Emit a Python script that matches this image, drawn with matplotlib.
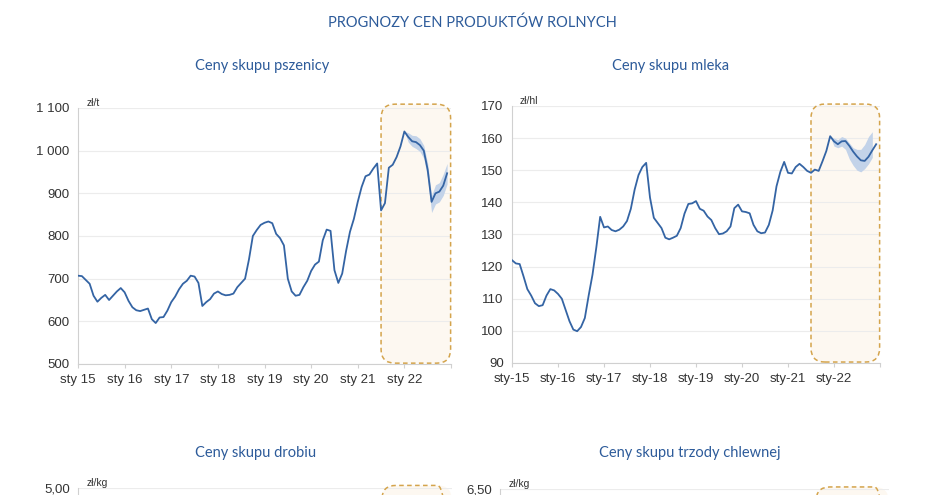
import numpy as np
import matplotlib.pyplot as plt
from matplotlib.patches import FancyBboxPatch
from matplotlib.ticker import FuncFormatter

# monthly data, Jan 2015 .. Dec 2022 (index 0 = sty 15)
wheat = [707, 706, 697, 688, 660, 646, 655, 662, 650, 660, 670, 678,
         668, 648, 633, 626, 624, 627, 630, 605, 596, 609, 610, 625,
         645, 658, 675, 688, 695, 707, 705, 690, 636, 645, 652, 665,
         670, 664, 661, 662, 665, 680, 690, 700, 745, 800, 814, 826,
         831, 834, 830, 805, 795, 778, 700, 670, 660, 662, 680, 695,
         718, 733, 740, 790, 815, 812, 720, 690, 712, 765, 810, 840,
         880, 915, 940, 944, 958, 970, 860, 877, 960, 967, 985, 1010,
         1045, 1032, 1022, 1020, 1013, 1000, 955, 880, 900, 904, 918, 947]

milk = [122, 121, 120.8, 117, 113, 111, 108.6, 107.7, 108, 111, 113, 112.6,
        111.5, 110, 106.5, 103, 100.4, 99.9, 101.2, 104, 111, 117.5, 126, 135.5,
        132.2, 132.5, 131.4, 131, 131.5, 132.5, 134.2, 138, 144, 148.5, 151, 152.3,
        141.5, 135.2, 133.6, 132, 129, 128.5, 129, 129.6, 132, 136.5, 139.5, 139.7,
        140.4, 138, 137.4, 135.6, 134.5, 132, 130.1, 130.3, 131, 132.5, 138.2, 139.3,
        137.2, 137, 136.6, 133, 131, 130.4, 130.6, 133, 137.5, 145, 149.5, 152.6,
        149.2, 149, 151, 152, 151, 149.8, 149.2, 150.2, 149.8, 152.8, 156, 160.6,
        159, 158.1, 159, 159.1, 157.6, 155.8, 154.3, 153.1, 152.9, 154.2, 156.2, 158.1]

# forecast uncertainty bands
wheat_band_start = 84
wheat_low = [1045, 1020, 1010, 1005, 998, 982, 935, 855, 875, 880, 895, 922]
wheat_high = [1045, 1042, 1036, 1035, 1028, 1012, 970, 895, 920, 925, 945, 970]

milk_band_start = 83
milk_low = [160.6, 157.5, 157, 157.5, 156.5, 153.5, 151.5, 150, 149.5, 150.5, 152, 154]
milk_high = [160.6, 160, 159.5, 160.5, 160, 158.5, 157, 156.5, 156.5, 158, 160.5, 162]

forecast_start = 78  # lipiec 2021
years = ["15", "16", "17", "18", "19", "20", "21", "22"]

wheat_ticks = [500, 600, 700, 800, 900, 1000, 1100]
milk_ticks = [90, 100, 110, 120, 130, 140, 150, 160, 170]
# dolne wykresy sa uciete - widac tylko gorna wartosc osi
poultry_top = 5.0
pork_top = 6.5

W, H = 940, 495
LINE = "#3464a4"
BAND = "#c3d3e9"
TITLE = "#2d5b9a"
BOX_EDGE = "#d4a44c"
BOX_FILL = "#fdf8f1"
TEXT = "#333333"

plt.rcParams['font.family'] = ['Liberation Sans', 'DejaVu Sans']

fig = plt.figure(figsize=(W / 100, H / 100), dpi=100)


def px_axes(left, top, right, bottom):
    return fig.add_axes([left / W, 1 - bottom / H, (right - left) / W, (bottom - top) / H])


def style_axes(ax, ticks, ymin, ymax, fmt, unit, labels=None):
    ax.set_xlim(0, 96)
    ax.set_ylim(ymin, ymax)
    ax.set_yticks(ticks)
    ax.yaxis.set_major_formatter(FuncFormatter(fmt))
    ax.set_xticks(np.arange(0, 97, 12))
    if labels is not None:
        ax.set_xticklabels(labels + [""])
    else:
        ax.tick_params(axis='x', labelbottom=False)
    ax.grid(axis='y', color="#ececec", lw=0.8)
    ax.set_axisbelow(True)
    for s in ["top", "right"]:
        ax.spines[s].set_visible(False)
    for s in ["left", "bottom"]:
        ax.spines[s].set_color("#d0d0d0")
    ax.tick_params(axis='x', length=3, color="#d0d0d0", labelsize=9.5, labelcolor=TEXT, pad=4)
    ax.tick_params(axis='y', length=0, labelsize=9.5, labelcolor=TEXT, pad=6)
    ax.text(0.022, 1.0, unit, transform=ax.transAxes, fontsize=7.5, color=TEXT,
            ha='left', va='bottom')


def forecast_box(ax, y0, y1, radius_px=14):
    pos = ax.get_position()
    xpp = 96 / (pos.width * W)
    ylo, yhi = ax.get_ylim()
    ypp = (yhi - ylo) / (pos.height * H)
    x0, x1 = forecast_start, 95.9
    style = f"round,pad=0,rounding_size={radius_px * xpp}"
    fill = FancyBboxPatch((x0, y0), x1 - x0, y1 - y0, boxstyle=style,
                          mutation_aspect=ypp / xpp, fc=BOX_FILL, ec="none",
                          zorder=0.2, clip_on=False)
    edge = FancyBboxPatch((x0, y0), x1 - x0, y1 - y0, boxstyle=style,
                          mutation_aspect=ypp / xpp, fc="none", ec=BOX_EDGE,
                          lw=1.1, ls=(0, (3, 2.2)), zorder=3, clip_on=False)
    ax.add_patch(fill)
    ax.add_patch(edge)


def thousands(v, _):
    return f"{int(v):,}".replace(",", " ")


def comma2(v, _):
    return f"{v:.2f}".replace(".", ",")


# pszenica
ax1 = px_axes(78, 108, 451, 364)
style_axes(ax1, wheat_ticks, 500, 1100, thousands, "zł/t", [f"sty {y}" for y in years])
forecast_box(ax1, 502, 1109)
ax1.fill_between(np.arange(wheat_band_start, wheat_band_start + len(wheat_low)),
                 wheat_low, wheat_high, color=BAND, lw=0, zorder=2)
ax1.plot(np.arange(len(wheat)), wheat, color=LINE, lw=1.3, zorder=4)

# mleko
ax2 = px_axes(512, 106, 880, 363)
style_axes(ax2, milk_ticks, 90, 170, lambda v, _: f"{int(v)}", "zł/hl",
           [f"sty-{y}" for y in years])
forecast_box(ax2, 90.3, 170.6)
ax2.fill_between(np.arange(milk_band_start, milk_band_start + len(milk_low)),
                 milk_low, milk_high, color=BAND, lw=0, zorder=2)
ax2.plot(np.arange(len(milk)), milk, color=LINE, lw=1.3, zorder=4)

# drob i trzoda - widoczny tylko gorny fragment
ax3 = px_axes(78, 488, 452, 744)
style_axes(ax3, [poultry_top], poultry_top - 2.0, poultry_top, comma2, "zł/kg")
forecast_box(ax3, poultry_top - 1.99, poultry_top + 0.02)

ax4 = px_axes(500, 489, 889, 745)
style_axes(ax4, [pork_top], pork_top - 2.5, pork_top, comma2, "zł/kg")
forecast_box(ax4, pork_top - 2.49, pork_top + 0.02)

# tytuly
tfont = ['Lato', 'DejaVu Sans']
fig.text(472 / W, 1 - 23 / H, "PROGNOZY CEN PRODUKTÓW ROLNYCH", ha='center', va='center',
         fontsize=10.5, color=TITLE, family=tfont)
for x, y, t in [(262, 66, "Ceny skupu pszenicy"), (671, 66, "Ceny skupu mleka"),
                (256, 453, "Ceny skupu drobiu"), (690, 453, "Ceny skupu trzody chlewnej")]:
    fig.text(x / W, 1 - y / H, t, ha='center', va='center', fontsize=10.5,
             color=TITLE, family=tfont)

fig.savefig("out.png", dpi=100, facecolor="white")
